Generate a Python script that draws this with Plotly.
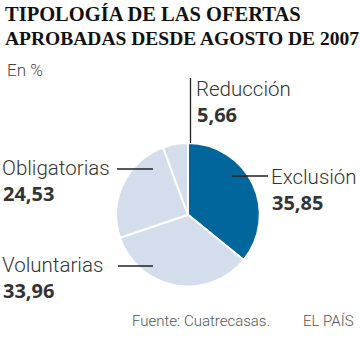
import plotly.graph_objects as go

categories = ["Exclusión", "Voluntarias", "Obligatorias", "Reducción"]
values = [35.85, 33.96, 24.53, 5.66]
value_labels = ["35,85", "33,96", "24,53", "5,66"]
colors = ["#00669b", "#d3ddec", "#d3ddec", "#d3ddec"]

W, H = 360, 340
fig = go.Figure()
fig.add_trace(go.Pie(
    labels=categories, values=values, sort=False, direction="clockwise", rotation=0,
    marker=dict(colors=colors, line=dict(color="white", width=2)),
    textinfo="none", hoverinfo="label+value", showlegend=False,
    domain=dict(x=[116/W, 260/W], y=[1-286.5/H, 1-143/H]),
))

fig.update_layout(
    width=W, height=H, margin=dict(l=0, r=0, t=0, b=0),
    paper_bgcolor="white", plot_bgcolor="rgba(0,0,0,0)",
    xaxis=dict(range=[0, W], visible=False, fixedrange=True),
    yaxis=dict(range=[H, 0], visible=False, fixedrange=True),
)

def txt(x, y, s, size, color="#333", family="Roboto", weight=None, anchor="left"):
    f = dict(size=size, color=color, family=family)
    if weight:
        f["weight"] = weight
    fig.add_annotation(x=x, y=y, xref="x", yref="y", text=s, showarrow=False,
                       xanchor=anchor, yanchor="middle", font=f)

# title
TF = "Liberation Serif"
txt(3, 14, "<b>TIPOLOGÍA DE LAS OFERTAS</b>", 20.5, "#111", TF)
txt(3, 38, "<b>APROBADAS DESDE AGOSTO DE 2007</b>", 19.5, "#111", TF)
txt(5, 70, "En %", 17, "#444", "Roboto", 300)

# labels
lab_pos = {
    "Exclusión": (269, 177),
    "Voluntarias": (0, 265),
    "Obligatorias": (0, 168),
    "Reducción": (194, 89),
}
for c, v in zip(categories, value_labels):
    x, y = lab_pos[c]
    txt(x, y, c, 20.5, "#333", "Roboto", 300)
    txt(x + 1, y + 25, "<b>" + v + "</b>", 20, "#333", "Open Sans")

lines = [
    (190.5, 78, 190.5, 143),
    (232, 176, 268, 176),
    (117, 169, 153, 169),
    (118, 266, 153, 266),
]
for x0, y0, x1, y1 in lines:
    fig.add_shape(type="line", x0=x0, y0=y0, x1=x1, y1=y1, xref="x", yref="y",
                  line=dict(color="#222", width=1.3))

txt(130, 321, "Fuente: Cuatrecasas.", 15, "#555", "Roboto", 300)
txt(301, 321, "EL PAÍS", 15, "#555", "Roboto", 300)

fig.write_html("out.html")
